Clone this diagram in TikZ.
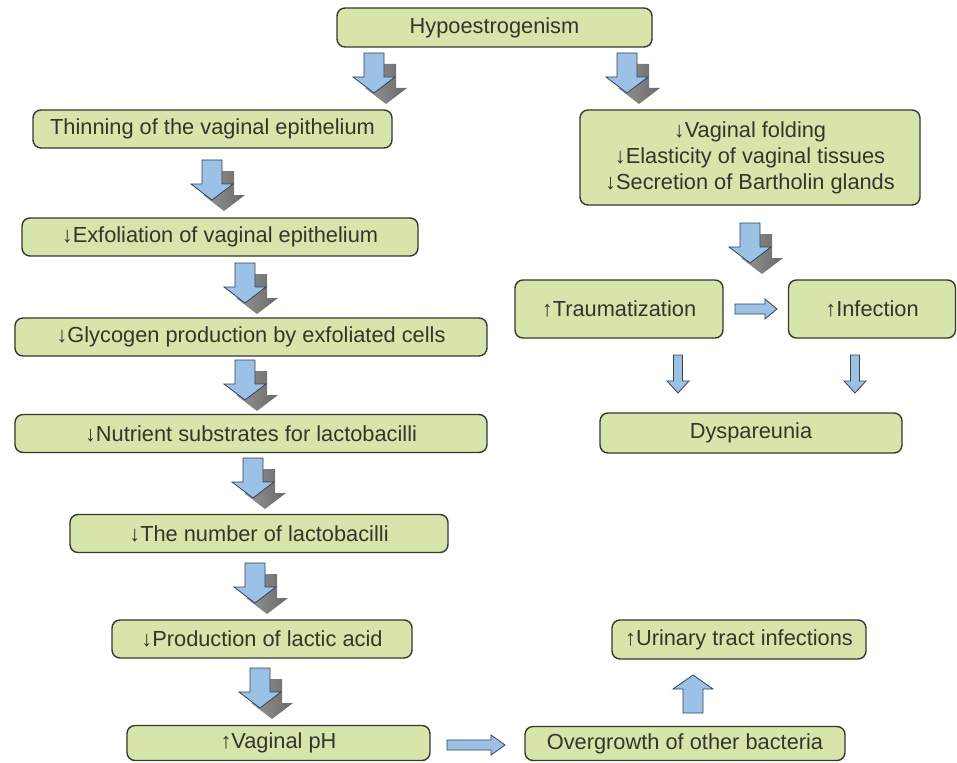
\documentclass[tikz,border=0pt]{standalone}
\usepackage{fontspec}
\setmainfont{Liberation Sans}

\definecolor{boxfill}{RGB}{215,228,170}
\definecolor{boxline}{RGB}{55,57,48}
\definecolor{txt}{RGB}{52,54,44}
\definecolor{arrowblue}{RGB}{155,194,230}
\definecolor{arrowline}{RGB}{52,66,86}
\definecolor{shadowlight}{RGB}{150,150,150}
\definecolor{shadowdark}{RGB}{105,105,105}

\tikzset{
  box/.style={draw=boxline, line width=1.4pt, fill=boxfill, rounded corners=8pt,
    text=txt, font=\fontsize{21.8}{26}\selectfont, inner sep=0pt, align=center},
  arrowedge/.style={draw=arrowline, line width=0.8pt, fill=arrowblue, line join=miter},
  % big block arrow pointing down, with a drop shadow; origin = top centre
  bdown/.pic={
    \shade[left color=shadowlight, right color=shadowdark]
      (2,11) -- (22,11) -- (22,35) -- (33,35) -- (12,51) -- (-9,35) -- (2,35) -- cycle;
    \path[arrowedge] (-10,0) -- (10,0) -- (10,24) -- (21,24) -- (0,40) -- (-21,24) -- (-10,24) -- cycle;
  },
  % plain block arrows: half body / half head / length / head length
  pics/tdown/.style args={#1/#2/#3/#4}{code={
    \path[arrowedge] (-#1,0) -- (#1,0) -- (#1,#3-#4) -- (#2,#3-#4) -- (0,#3)
      -- (-#2,#3-#4) -- (-#1,#3-#4) -- cycle;}},
  pics/tright/.style args={#1/#2/#3/#4}{code={
    \path[arrowedge] (0,-#1) -- (#3-#4,-#1) -- (#3-#4,-#2) -- (#3,0)
      -- (#3-#4,#2) -- (#3-#4,#1) -- (0,#1) -- cycle;}},
  pics/tup/.style args={#1/#2/#3/#4}{code={
    \path[arrowedge] (-#1,0) -- (#1,0) -- (#1,#4-#3) -- (#2,#4-#3) -- (0,-#3)
      -- (-#2,#4-#3) -- (-#1,#4-#3) -- cycle;}},
}

\begin{document}
\begin{tikzpicture}[x=1pt,y=-1pt]
\useasboundingbox (0,0) rectangle (957,762);

% boxes of the left-hand chain
\node[box, minimum width=315pt, minimum height=39pt] (hypo) at (494.5,27.5) {Hypoestrogenism};
\node[box, minimum width=359pt, minimum height=38pt] (thin) at (212.5,129) {Thinning of the vaginal epithelium};
\node[box, minimum width=396pt, minimum height=38pt] (exfol) at (220,237) {↓Exfoliation of vaginal epithelium};
\node[box, minimum width=472pt, minimum height=38pt] (glyc) at (251,337) {↓Glycogen production by exfoliated cells};
\node[box, minimum width=472pt, minimum height=38pt] (nutr) at (251,433.5) {↓Nutrient substrates for lactobacilli};
\node[box, minimum width=378pt, minimum height=38pt] (numb) at (259,533.5) {↓The number of lactobacilli};
\node[box, minimum width=300pt, minimum height=38pt] (prod) at (262,639) {↓Production of lactic acid};
\node[box, minimum width=303pt, minimum height=35pt] (ph) at (278.5,743) {↑Vaginal pH};
\node[box, minimum width=320pt, minimum height=34pt] (over) at (685,743.5) {Overgrowth of other bacteria};
\node[box, minimum width=254pt, minimum height=39pt] (uri) at (739,639.5) {↑Urinary tract infections};

% boxes of the right-hand chain
\node[box, minimum width=340pt, minimum height=95pt] (local) at (750,157.5)
  {↓Vaginal folding\\↓Elasticity of vaginal tissues\\↓Secretion of Bartholin glands};
\node[box, minimum width=208pt, minimum height=58pt] (trauma) at (619,309) {↑Traumatization};
\node[box, minimum width=167pt, minimum height=58pt] (infect) at (872,309) {↑Infection};
\node[box, minimum width=302pt, minimum height=40pt] (dysp) at (751,433) {Dyspareunia};

% anchor points of the block arrows
\coordinate (hypoL) at (374,53);
\coordinate (hypoR) at (627,53);
\coordinate (thinExf) at (212,160);
\coordinate (exfGly) at (245,263);
\coordinate (glyNut) at (245,360);
\coordinate (nutNum) at (253,458);
\coordinate (numPro) at (255,563);
\coordinate (proPh) at (260,668);
\coordinate (locTr) at (750,223);
\coordinate (trInf) at (735,309);
\coordinate (trDy) at (678,355);
\coordinate (infDy) at (855,355);
\coordinate (phOv) at (447,745);
\coordinate (ovUri) at (693,713);

% shadowed block arrows
\foreach \c in {hypoL,hypoR,thinExf,exfGly,glyNut,nutNum,numPro,proPh,locTr}
  \pic at (\c) {bdown};

% plain block arrows
\pic at (trInf) {tright={5/10/42/12}};
\pic at (trDy) {tdown={4.5/11/38/12}};
\pic at (infDy) {tdown={4.5/11/38/12}};
\pic at (phOv) {tright={5/10/58/14}};
\pic at (ovUri) {tup={10/20/38/14}};
\end{tikzpicture}
\end{document}
